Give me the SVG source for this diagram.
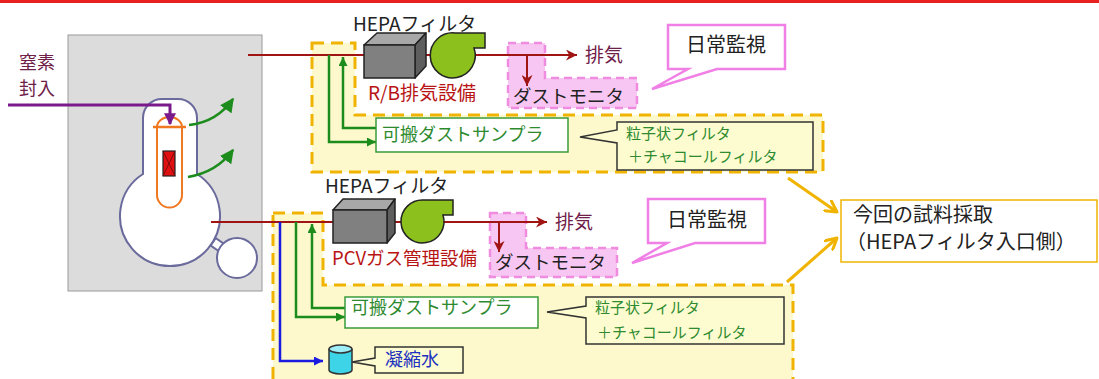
<svg xmlns="http://www.w3.org/2000/svg" width="1099" height="379" viewBox="0 0 1099 379">
  <style>
    text { font-family: "Noto Sans CJK JP", "Noto Sans", sans-serif; }
    .pipe { fill: none; stroke: #a01414; stroke-width: 2; }
    .green { fill: none; stroke: #1c8c1c; stroke-width: 2.5; }
    .zone { fill: #fdf9cc; stroke: #f0b400; stroke-width: 3; stroke-dasharray: 12 7; }
    .pink { fill: #f8c6f2; stroke: #f08ce0; stroke-width: 2.5; stroke-dasharray: 8 5; }
    .mon { fill: #ffffff; stroke: #f080e6; stroke-width: 2.5; }
    .note { fill: #fdfcd0; stroke: #333333; stroke-width: 1.5; }
    .pcv { fill: #ffffff; stroke: #6a6a9c; stroke-width: 2; }
    .lbl { font-size: 19px; fill: #222222; }
    .red { font-size: 19px; fill: #b81414; }
    .plum { font-size: 19px; fill: #6e2048; }
    .gtxt { fill: #2e8a2e; }
    .ftxt { fill: #2e8a2e; font-size: 15px; }
  </style>
  <defs>
    <marker id="ahRed" viewBox="0 0 10 10" refX="10" refY="5" markerWidth="11" markerHeight="11" markerUnits="userSpaceOnUse" orient="auto">
      <path d="M0,0 L10,5 L0,10 L3,5 Z" fill="#a01414"/>
    </marker>
    <marker id="ahGreen" viewBox="0 0 10 10" refX="10" refY="5" markerWidth="9" markerHeight="9" markerUnits="userSpaceOnUse" orient="auto">
      <path d="M0,0 L10,5 L0,10 Z" fill="#1c8c1c"/>
    </marker>
    <marker id="ahGreenBig" viewBox="0 0 10 10" refX="9" refY="5" markerWidth="14" markerHeight="14" markerUnits="userSpaceOnUse" orient="auto">
      <path d="M0,0 L10,5 L0,10 Z" fill="#1c8c1c"/>
    </marker>
    <marker id="ahBlue" viewBox="0 0 10 10" refX="10" refY="5" markerWidth="9" markerHeight="9" markerUnits="userSpaceOnUse" orient="auto">
      <path d="M0,0 L10,5 L0,10 Z" fill="#1a1ae0"/>
    </marker>
    <marker id="ahPurple" viewBox="0 0 10 10" refX="9" refY="5" markerWidth="12" markerHeight="12" markerUnits="userSpaceOnUse" orient="auto">
      <path d="M0,0 L10,5 L0,10 Z" fill="#7a1a8a"/>
    </marker>
    <marker id="ahYellow" viewBox="0 0 14 14" refX="12" refY="7" markerWidth="14" markerHeight="14" markerUnits="userSpaceOnUse" orient="auto">
      <path d="M1,1 L12,7 L1,13" fill="none" stroke="#f0b400" stroke-width="3" stroke-linejoin="round" stroke-linecap="round"/>
    </marker>
  </defs>

  <!-- top accent bar -->
  <rect x="0" y="0" width="1099" height="3" fill="#e82020"/>

  <!-- reactor building -->
  <g id="building">
    <rect x="68" y="35" width="194" height="256" fill="#dcdcdc" stroke="#9a9a9a" stroke-width="1"/>
    <rect x="212" y="241" width="13" height="9" transform="rotate(35 218.5 245.5)" class="pcv"/>
    <path class="pcv" d="M143,174 V118 A19,19 0 0 1 162,99 H178 A19,19 0 0 1 197,118 V174 A50,50 0 1 1 143,174 Z"/>
    <circle class="pcv" cx="237" cy="258" r="20"/>
    <!-- reactor pressure vessel -->
    <path d="M157,127 V195 A12.5,12.5 0 0 0 182,195 V127" fill="#ffffff" stroke="#f07820" stroke-width="2"/>
    <path d="M157,127 A12.5,10 0 0 1 182,127 Z" fill="#ffffff" stroke="#f07820" stroke-width="2"/>
    <line x1="153" y1="127" x2="186" y2="127" stroke="#f07820" stroke-width="2.5"/>
    <!-- fuel -->
    <rect x="163" y="151" width="12" height="25" fill="#e01010" stroke="#222222" stroke-width="1.2"/>
    <path d="M163,151 L175,176 M175,151 L163,176" stroke="#6a0a0a" stroke-width="0.8"/>
    <!-- leak paths -->
    <path class="green" d="M189,125 Q217,122 233,99" marker-end="url(#ahGreenBig)"/>
    <path class="green" d="M188,177 Q217,172 233,150" marker-end="url(#ahGreenBig)"/>
  </g>

  <!-- nitrogen injection -->
  <g id="nitrogen">
    <text class="plum" x="19" y="69" style="font-size:18px">窒素</text>
    <text class="plum" x="19" y="95" style="font-size:18px">封入</text>
    <path d="M8,105 H170 V124" fill="none" stroke="#7a1a8a" stroke-width="3" marker-end="url(#ahPurple)"/>
  </g>

  <!-- sampling zones -->
  <g id="zones">
    <path class="zone" d="M312,43 H355 V115 H823 V172 H312 Z"/>
    <path class="zone" d="M273,213 H323 V285 H793 V384 H273 Z"/>
    <path class="pink" d="M508,43 H545 V78 H637 V108 H508 Z"/>
    <path class="pink" d="M490,213 H526 V248 H617 V277 H490 Z"/>
  </g>

  <!-- connectors -->
  <g id="connectors">
    <path class="pipe" d="M248,55 H577" marker-end="url(#ahRed)"/>
    <path class="pipe" d="M527,55 V86" marker-end="url(#ahRed)"/>
    <path class="pipe" d="M211,222 H547" marker-end="url(#ahRed)"/>
    <path class="pipe" d="M499,222 V252" marker-end="url(#ahRed)"/>
    <path class="green" d="M329,55 V142 H376" marker-end="url(#ahGreen)"/>
    <path class="green" d="M376,128 H343 V57" marker-end="url(#ahGreen)"/>
    <path class="green" d="M296,222 V317 H345" marker-end="url(#ahGreen)"/>
    <path class="green" d="M345,308 H312 V224" marker-end="url(#ahGreen)"/>
    <path d="M280,222 V361 H323" fill="none" stroke="#1a1ae0" stroke-width="2.5" marker-end="url(#ahBlue)"/>
    <path d="M788,178 L837,212" fill="none" stroke="#f0b400" stroke-width="3" marker-end="url(#ahYellow)"/>
    <path d="M787,282 L837,238" fill="none" stroke="#f0b400" stroke-width="3" marker-end="url(#ahYellow)"/>
  </g>

  <!-- R/B exhaust system -->
  <g id="rb-hepa">
    <text class="lbl" x="353" y="31">HEPAフィルタ</text>
    <polygon points="364,45 377,33 426,33 415,45" fill="#a8a8a8" stroke="#222" stroke-width="1.5" stroke-linejoin="round"/>
    <polygon points="415,45 426,33 426,66 415,78" fill="#5e5e5e" stroke="#222" stroke-width="1.5" stroke-linejoin="round"/>
    <rect x="364" y="45" width="51" height="33" fill="#808080" stroke="#222" stroke-width="1.5"/>
  </g>
  <g id="rb-fan">
    <path d="M455,33 H485 V48 H474 A22.5,22.5 0 1 1 455,33 Z" fill="#8cc01c" stroke="#222" stroke-width="1.5"/>
  </g>
  <g id="rb-label">
    <text class="red" x="368" y="100">R/B排気設備</text>
    <text class="plum" x="585" y="62">排気</text>
  </g>
  <g id="rb-monitor">
    <text class="lbl" x="513" y="103" style="font-size:18.5px">ダストモニタ</text>
  </g>
  <g id="rb-daily">
    <path class="mon" d="M668,25 H785 V69 H717 L652,89 L688,69 H668 Z"/>
    <text class="lbl" x="686" y="52" style="font-size:20px">日常監視</text>
  </g>
  <g id="rb-sampler">
    <rect x="376" y="118" width="192" height="34" fill="#ffffff" stroke="#3a9a3a" stroke-width="1.5"/>
    <text class="gtxt" x="382" y="141" style="font-size:18px">可搬ダストサンプラ</text>
  </g>
  <g id="rb-filter">
    <path class="note" d="M617,122 H813 V170 H617 V143 L580,137 L617,130 Z"/>
    <text class="ftxt" x="626" y="139">粒子状フィルタ</text>
    <text class="ftxt" x="628" y="162">＋チャコールフィルタ</text>
  </g>

  <!-- PCV gas control system -->
  <g id="pcv-hepa">
    <text class="lbl" x="325" y="193">HEPAフィルタ</text>
    <polygon points="333,210 343,199 395,199 387,210" fill="#a8a8a8" stroke="#222" stroke-width="1.5" stroke-linejoin="round"/>
    <polygon points="387,210 395,199 395,233 387,243" fill="#5e5e5e" stroke="#222" stroke-width="1.5" stroke-linejoin="round"/>
    <rect x="333" y="210" width="54" height="33" fill="#808080" stroke="#222" stroke-width="1.5"/>
  </g>
  <g id="pcv-fan">
    <path d="M424,200 H453 V215 H443 A21.5,21.5 0 1 1 424,200 Z" fill="#8cc01c" stroke="#222" stroke-width="1.5"/>
  </g>
  <g id="pcv-label">
    <text class="red" x="332" y="265" style="font-size:18.5px">PCVガス管理設備</text>
    <text class="plum" x="555" y="229">排気</text>
  </g>
  <g id="pcv-monitor">
    <text class="lbl" x="495" y="269" style="font-size:18.5px">ダストモニタ</text>
  </g>
  <g id="pcv-daily">
    <path class="mon" d="M648,199 H765 V243 H695 L632,263 L667,243 H648 Z"/>
    <text class="lbl" x="667" y="227" style="font-size:20px">日常監視</text>
  </g>
  <g id="pcv-sampler">
    <rect x="345" y="297" width="193" height="31" fill="#ffffff" stroke="#3a9a3a" stroke-width="1.5"/>
    <text class="gtxt" x="351" y="314" style="font-size:18px">可搬ダストサンプラ</text>
  </g>
  <g id="pcv-filter">
    <path class="note" d="M586,297 H784 V344 H586 V318 L547,312 L586,306 Z"/>
    <text class="ftxt" x="595" y="313">粒子状フィルタ</text>
    <text class="ftxt" x="597" y="338">＋チャコールフィルタ</text>
  </g>
  <g id="condensate">
    <path d="M329,349 V370 A11.5,4 0 0 0 352,370 V349" fill="#3cd4e6" stroke="#333" stroke-width="1.5"/>
    <ellipse cx="340.5" cy="349" rx="11.5" ry="4" fill="#9eeef8" stroke="#333" stroke-width="1.5"/>
    <path class="note" d="M375,347 H463 V373 H375 V366 L352,362 L375,358 Z"/>
    <text x="385" y="366" style="font-size:18px" fill="#2030c0">凝縮水</text>
  </g>

  <!-- sampling point note -->
  <g id="sampling-note">
    <rect x="841" y="200" width="256" height="62" fill="#ffffff" stroke="#f0b400" stroke-width="1.5"/>
    <text class="lbl" x="853" y="222" style="font-size:20px">今回の試料採取</text>
    <text class="lbl" x="846" y="249" style="font-size:20px">（HEPAフィルタ入口側）</text>
  </g>
</svg>
